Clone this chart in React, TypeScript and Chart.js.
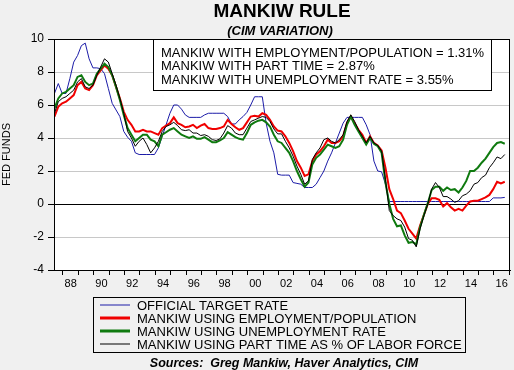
import React, { useEffect, useRef } from 'react';
import { Chart, registerables } from 'chart.js';

Chart.register(...registerables);

const FONT = '"Liberation Sans", Arial, sans-serif';

// Quarterly observations, starting mid-1987
const START_YEAR = 1987.45;
const STEP_YEARS = 0.25;

const targetRate = [
  6.7, 7.3, 6.7, 6.7, 7.6, 8.6, 9.0, 9.6, 9.75, 8.8,
  8.25, 8.25, 8.2, 7.9, 7.0, 6.1, 5.7, 5.3, 4.4, 4.05,
  3.8, 3.1, 3.0, 3.0, 3.0, 3.0, 3.0, 3.4, 4.1, 4.8,
  5.5, 6.0, 6.0, 5.75, 5.4, 5.25, 5.25, 5.25, 5.25, 5.4,
  5.5, 5.5, 5.5, 5.5, 5.5, 5.3, 4.85, 4.85, 5.1, 5.3,
  5.55, 6.0, 6.5, 6.5, 6.5, 4.9, 3.8, 3.1, 1.8, 1.75,
  1.75, 1.75, 1.3, 1.25, 1.2, 1.0, 1.0, 1.0, 1.2, 1.6,
  2.0, 2.6, 3.1, 3.7, 4.3, 4.9, 5.25, 5.25, 5.25, 5.25,
  5.25, 4.8, 4.2, 2.6, 2.0, 1.95, 1.2, 0.15, 0.15, 0.15,
  0.15, 0.15, 0.15, 0.15, 0.15, 0.15, 0.15, 0.15, 0.15, 0.15,
  0.15, 0.15, 0.15, 0.15, 0.15, 0.15, 0.15, 0.15, 0.15, 0.15,
  0.15, 0.15, 0.15, 0.15, 0.37, 0.37, 0.37, 0.4,
];

const mankiwEmpPop = [
  5.3, 5.9, 6.1, 6.2, 6.4, 6.6, 7.2, 7.4, 7.0, 6.9,
  7.2, 7.8, 8.1, 8.4, 8.2, 7.8, 7.1, 6.4, 5.6, 5.1,
  4.8, 4.4, 4.4, 4.5, 4.4, 4.4, 4.3, 4.2, 4.6, 4.75,
  4.9, 5.25, 4.9, 4.8, 4.65, 4.7, 4.8, 4.6, 4.75, 4.85,
  4.6, 4.55, 4.55, 4.6, 4.7, 5.1, 4.85, 4.65, 4.5, 4.6,
  4.95, 5.3, 5.35, 5.3, 5.5, 5.4, 5.1, 4.7, 4.45, 4.4,
  4.1, 3.7, 3.2, 2.6, 2.2, 1.7, 1.8, 2.6, 3.0, 3.2,
  3.5, 3.9, 3.7, 3.7, 3.8, 4.1, 4.9, 5.3, 4.9, 4.5,
  4.2, 3.7, 4.1, 3.7, 3.55, 3.25, 2.2, 0.9, 0.3, -0.4,
  -0.55, -1.0, -1.5, -1.8, -2.1, -1.3, -0.65, 0.0, 0.35, 0.35,
  0.25, -0.15, 0.05, -0.2, -0.4, -0.3, -0.4, -0.1, 0.15, 0.2,
  0.2, 0.3, 0.4, 0.55, 0.9, 1.35, 1.25, 1.35,
];

const mankiwUnemployment = [
  5.8, 6.4, 6.7, 6.8, 7.0, 7.2, 7.7, 7.8, 7.4, 7.2,
  7.3, 7.9, 8.2, 8.5, 8.3, 7.8, 7.1, 6.3, 5.4, 4.6,
  4.2, 3.8, 4.0, 4.2, 4.2, 3.9, 3.8, 3.5, 4.2, 4.35,
  4.5, 4.6, 4.4, 4.2, 4.1, 4.0, 4.1, 3.95, 3.95, 4.05,
  3.9, 3.75, 3.75, 3.85, 4.0, 4.35, 4.2, 4.05, 3.95, 3.9,
  4.3, 4.8, 4.95, 5.05, 5.1, 4.95, 4.7, 4.2, 3.8, 3.7,
  3.4, 3.1, 2.6, 2.0, 1.5, 1.05, 1.3, 2.4, 2.8, 3.0,
  3.3, 3.6, 3.5, 3.4, 3.5, 3.9, 4.8, 5.3, 4.8, 4.4,
  4.0, 3.6, 4.0, 3.65, 3.5, 3.1, 1.3, 0.0, -0.9, -1.35,
  -1.3, -1.9, -2.35, -2.3, -2.45, -1.4, -0.65, 0.05, 0.85, 1.05,
  1.05, 0.8, 1.0, 0.85, 0.9, 0.7, 1.0, 1.4, 2.0, 2.0,
  2.2, 2.5, 2.75, 3.1, 3.45, 3.7, 3.75, 3.65,
];

const mankiwPartTime = [
  5.5, 6.2, 6.4, 6.5, 6.7, 6.9, 7.4, 7.6, 7.1, 7.0,
  7.2, 7.8, 8.3, 8.8, 8.6, 7.9, 7.2, 6.4, 5.5, 4.4,
  4.0, 3.5, 3.8, 4.0, 3.6, 3.1, 3.4, 3.8, 4.4, 4.7,
  4.8, 4.95, 4.75, 4.5, 4.45, 4.5, 4.3, 4.3, 4.15, 4.2,
  4.1, 3.9, 3.85, 3.95, 4.3, 4.75, 4.6, 4.3, 4.2, 4.2,
  4.6, 5.0, 5.1, 5.2, 5.3, 5.25, 5.0, 4.55, 4.25, 4.25,
  3.8, 3.4, 2.9, 2.3, 1.8, 1.2, 1.4, 2.7, 3.1, 3.4,
  3.9, 4.0, 3.8, 3.7, 3.9, 4.2, 5.0, 5.4, 5.0, 4.5,
  4.1, 3.7, 4.1, 3.7, 3.55, 3.2, 1.5, -0.4, -0.7, -0.9,
  -1.0, -1.4, -2.1, -2.2, -2.6, -1.5, -0.7, 0.0, 0.9, 1.3,
  1.0, 0.45, 0.45, 0.3, 0.1, 0.2, 0.5, 0.6, 0.8, 1.2,
  1.3, 1.6, 1.75, 2.2, 2.5, 2.85, 2.75, 3.0,
];

const quarterDates = targetRate.map((_, i) => +(START_YEAR + i * STEP_YEARS).toFixed(2));

const yearTicks = [
  1988, 1989, 1990, 1991, 1992, 1993, 1994, 1995, 1996, 1997, 1998, 1999, 2000, 2001, 2002,
  2003, 2004, 2005, 2006, 2007, 2008, 2009, 2010, 2011, 2012, 2013, 2014, 2015, 2016, 2017,
];
const labeledYears = [1988, 1990, 1992, 1994, 1996, 1998, 2000, 2002, 2004, 2006, 2008, 2010, 2012, 2014, 2016];

const seriesNames = [
  'OFFICIAL TARGET RATE',
  'MANKIW USING EMPLOYMENT/POPULATION',
  'MANKIW USING UNEMPLOYMENT RATE',
  'MANKIW USING PART TIME AS % OF LABOR FORCE',
];
const seriesColors = ['#1c1ca8', '#f00000', '#0f7a0f', '#000000'];
const seriesWidths = [1, 2, 2, 1];
const legendWidths = [1, 3, 3, 1];

const annotationLines = [
  'MANKIW WITH EMPLOYMENT/POPULATION = 1.31%',
  'MANKIW WITH PART TIME = 2.87%',
  'MANKIW WITH UNEMPLOYMENT RATE = 3.55%',
];

const TITLE = 'MANKIW RULE';
const SUBTITLE = '(CIM VARIATION)';
const SOURCES = 'Sources:  Greg Mankiw, Haver Analytics, CIM';
const Y_TITLE = 'FED FUNDS';

const toPoints = (vals: number[]) => vals.map((v, i) => ({ x: quarterDates[i], y: v }));

const decorPlugin = {
  id: 'decor',
  beforeDraw(chart: any) {
    const { ctx, chartArea } = chart;
    ctx.save();
    ctx.fillStyle = '#ffffff';
    ctx.fillRect(chartArea.left, chartArea.top, chartArea.right - chartArea.left, chartArea.bottom - chartArea.top);
    ctx.restore();
  },
  afterDraw(chart: any) {
    const { ctx, chartArea } = chart;
    ctx.save();
    // plot frame
    ctx.strokeStyle = '#000';
    ctx.lineWidth = 1;
    const l = Math.round(chartArea.left) + 0.5;
    const t = Math.round(chartArea.top) + 0.5;
    const r = Math.round(chartArea.right) - 0.5;
    const b = Math.round(chartArea.bottom) + 0.5;
    ctx.strokeRect(l, t, r - l, b - t);

    // title
    ctx.fillStyle = '#000';
    ctx.textAlign = 'center';
    ctx.textBaseline = 'alphabetic';
    ctx.font = `bold 19px ${FONT}`;
    ctx.fillText(TITLE, 282, 16.5);
    ctx.font = `italic bold 13px ${FONT}`;
    ctx.fillText(SUBTITLE, 280, 35);

    // annotation box
    ctx.fillStyle = '#fff';
    ctx.fillRect(153.5, 39.5, 338, 51);
    ctx.strokeRect(153.5, 39.5, 338, 51);
    ctx.fillStyle = '#000';
    ctx.textAlign = 'left';
    ctx.font = `13px ${FONT}`;
    annotationLines.forEach((s, i) => ctx.fillText(s, 161, 57 + i * 13.3));

    // legend
    ctx.strokeRect(93.5, 297.5, 372, 55);
    ctx.font = `13px ${FONT}`;
    seriesNames.forEach((name, i) => {
      const y = 305 + i * 13;
      ctx.strokeStyle = seriesColors[i];
      ctx.lineWidth = legendWidths[i];
      ctx.beginPath();
      ctx.moveTo(100, y);
      ctx.lineTo(130, y);
      ctx.stroke();
      ctx.fillStyle = '#000';
      ctx.fillText(name, 137, y + 4.5);
    });

    // sources
    ctx.textAlign = 'center';
    ctx.font = `italic bold 12.5px ${FONT}`;
    ctx.fillText(SOURCES, 284, 367);
    ctx.restore();
  },
};

export default function App() {
  const canvasRef = useRef<HTMLCanvasElement | null>(null);

  useEffect(() => {
    if (!canvasRef.current) return;
    const seriesValues = [targetRate, mankiwEmpPop, mankiwUnemployment, mankiwPartTime];
    const drawOrder = [3, 2, 1, 0];
    const chart = new Chart(canvasRef.current, {
      type: 'line',
      data: {
        datasets: seriesValues.map((vals, i) => ({
          label: seriesNames[i],
          data: toPoints(vals),
          borderColor: seriesColors[i],
          backgroundColor: seriesColors[i],
          borderWidth: seriesWidths[i],
          pointRadius: 0,
          tension: 0,
          fill: false,
          order: drawOrder[i],
        })),
      },
      options: {
        animation: false,
        responsive: false,
        devicePixelRatio: 1,
        events: [],
        layout: { padding: { left: 0, right: 4, top: 39, bottom: 80 } },
        plugins: {
          legend: { display: false },
          title: { display: false },
          tooltip: { enabled: false },
        },
        scales: {
          x: {
            type: 'linear',
            min: 1987.42,
            max: 2017.04,
            afterBuildTicks: (scale: any) => {
              const ticks: any[] = [];
              yearTicks.forEach((y) => ticks.push({ value: y }));
              labeledYears.forEach((y) => ticks.push({ value: y + 0.5 }));
              ticks.sort((a, b) => a.value - b.value);
              scale.ticks = ticks;
            },
            afterFit: (scale: any) => {
              scale.height = 20;
            },
            ticks: {
              autoSkip: false,
              maxRotation: 0,
              minRotation: 0,
              color: '#000',
              padding: 2,
              font: { family: FONT, size: 11 },
              callback: (value: any) => {
                const v = Number(value);
                if (Math.abs(v - Math.floor(v) - 0.5) < 0.01) {
                  const yr = Math.floor(v) % 100;
                  return yr < 10 ? '0' + yr : String(yr);
                }
                return '';
              },
            },
            grid: {
              drawOnChartArea: false,
              drawTicks: true,
              tickLength: 5,
              tickColor: (ctx: any) =>
                ctx.tick && Number.isInteger(ctx.tick.value) ? '#000' : 'rgba(0,0,0,0)',
            },
            border: { display: true, color: '#000' },
          },
          y: {
            min: -4,
            max: 10,
            afterFit: (scale: any) => {
              scale.width = 54;
            },
            ticks: {
              stepSize: 2,
              color: '#000',
              padding: 4,
              font: { family: FONT, size: 12 },
            },
            grid: {
              color: (ctx: any) => (ctx.tick && ctx.tick.value === 0 ? '#000' : '#c8c8c8'),
              lineWidth: 1,
              tickLength: 6,
              tickColor: '#000',
            },
            border: { display: true, color: '#000' },
            title: {
              display: true,
              text: Y_TITLE,
              color: '#000',
              font: { family: FONT, size: 11 },
              padding: { top: 0, bottom: 0 },
            },
          },
        },
      },
      plugins: [decorPlugin],
    });
    return () => chart.destroy();
  }, []);

  return (
    <div style={{ position: 'absolute', left: 0, top: 0, width: 514, height: 370, background: '#f0f0f0' }}>
      <canvas ref={canvasRef} width={514} height={370} style={{ display: 'block', width: 514, height: 370 }} />
    </div>
  );
}
